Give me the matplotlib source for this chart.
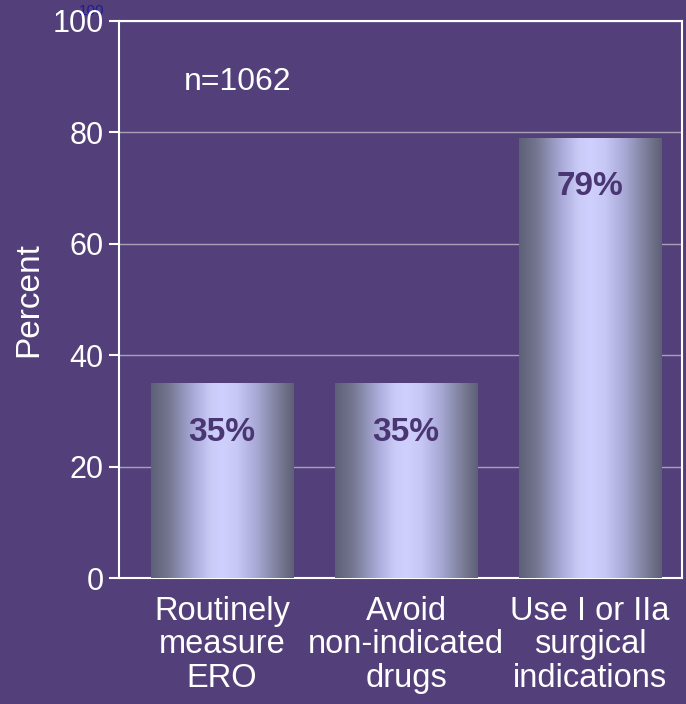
import matplotlib
matplotlib.use("Agg")
import matplotlib.pyplot as plt
import numpy as np
from matplotlib.colors import LinearSegmentedColormap

categories = ["Routinely\nmeasure\nERO", "Avoid\nnon-indicated\ndrugs", "Use I or IIa\nsurgical\nindications"]
values = [35, 35, 79]
value_labels = ["35%", "35%", "79%"]
yticks = [0, 20, 40, 60, 80, 100]
n_label = "n=1062"
y_label = "Percent"

bg = "#533F7A"
plt.rcParams['font.family'] = ['Liberation Sans', 'DejaVu Sans']
fig = plt.figure(figsize=(6.86, 7.04), dpi=100, facecolor=bg)
ax = fig.add_axes([119/686, (704-578)/704, (682-119)/686, (578-21)/704])
ax.set_facecolor(bg)

x = np.arange(len(values))
bars = ax.bar(x, values, width=0.772, color='none', edgecolor='none', zorder=3)
cmap = LinearSegmentedColormap.from_list('g', [
    (0.0, '#5E6078'), (0.12, '#74768F'), (0.3, '#ABABDA'), (0.42, '#CBCBF8'),
    (0.5, '#D0D0FF'), (0.6, '#C8C8F6'), (0.75, '#A5A6D2'), (0.9, '#797B96'),
    (1.0, '#5E6078')])
grad = np.linspace(0, 1, 256).reshape(1, -1)
for b in bars:
    x0 = b.get_x(); w = b.get_width(); h = b.get_height()
    im = ax.imshow(grad, cmap=cmap, extent=[x0, x0 + w, 0, h], aspect='auto',
                   zorder=3, interpolation='bilinear')
    im.set_clip_path(b)

ax.set_xlim(-0.56, 2.5)
ax.set_ylim(0, 100)
ax.set_yticks(yticks)
ax.set_xticks(x)
ax.set_xticklabels(categories, linespacing=1.1)
ax.tick_params(axis='y', colors='white', labelsize=22, length=7, width=1.5, pad=4)
ax.tick_params(axis='x', colors='white', labelsize=23.5, length=0, pad=13)
ax.yaxis.grid(True, color='#A9A1B5', lw=1.0)
ax.set_axisbelow(True)
for s in ax.spines.values():
    s.set_color('white')
    s.set_linewidth(1.5)
ax.set_ylabel(y_label, color='white', fontsize=24, labelpad=6)

for xi, v, lbl in zip(x, values, value_labels):
    ax.text(xi, v - 8.8, lbl, ha='center', va='center', color='#4A3672',
            fontsize=24, weight='bold', zorder=5)

ax.text(-0.21, 89, n_label, ha='left', va='center', color='white', fontsize=23)

fig.text(92/686, 1 - 4/704, '100', color='#1B1BA0', fontsize=11, ha='center', va='top', zorder=-1)

fig.savefig('out.png', dpi=100, facecolor=bg)
